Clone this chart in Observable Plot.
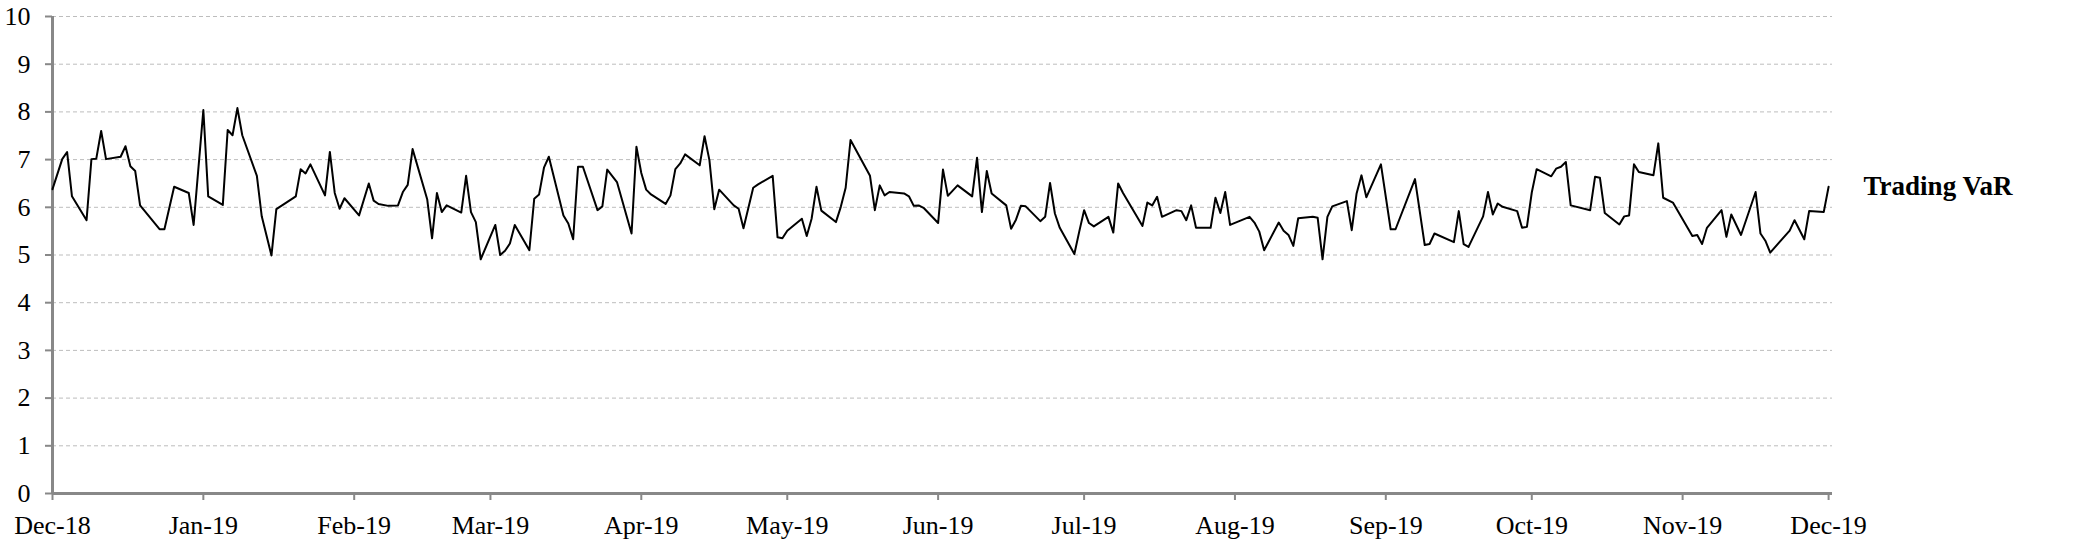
<!DOCTYPE html>
<html><head><meta charset="utf-8">
<script src="https://cdn.jsdelivr.net/npm/d3@7"></script>
<script src="https://cdn.jsdelivr.net/npm/@observablehq/plot@0.6"></script>
<style>html,body{margin:0;padding:0;background:#fff;} #chart{width:2100px;height:539px;}</style>
</head><body><div id="chart"></div>
<script>
// Data
const startDate = "2018-12-03";
const dayOffsets = [0,2,3,4,7,8,9,10,11,14,15,16,17,18,22,23,25,28,29,31,32,35,36,37,38,39,42,43,45,46,
50,51,52,53,56,57,58,59,60,63,65,66,67,69,71,72,73,74,77,78,79,80,81,84,85,86,87,88,91,
92,93,94,95,98,99,100,101,102,105,106,107,108,109,112,113,114,116,119,120,121,122,123,126,127,128,129,130,133,134,135,136,
137,140,141,142,144,145,148,149,150,151,154,155,156,157,158,161,162,163,164,168,169,170,171,172,175,176,177,178,179,182,
183,184,186,189,190,191,192,193,196,197,198,199,200,203,204,205,206,207,210,211,212,213,214,217,218,219,220,224,225,226,227,
228,231,232,233,234,235,238,239,240,241,242,246,247,248,249,252,253,254,255,256,259,260,261,262,263,266,267,268,269,270,
273,275,276,280,282,283,284,288,289,290,291,294,295,296,297,298,301,302,303,304,305,308,309,310,311,312,316,317,318,
319,322,323,324,325,326,329,330,331,333,337,338,339,340,343,344,345,347,350,351,352,353,357,358,360,361,364,365];
const varValues = [6.38,7.01,7.16,6.23,5.73,7.01,7.02,7.60,7.01,7.06,7.28,6.86,6.76,6.04,5.54,5.54,6.43,6.30,5.63,8.04,6.23,6.05,7.62,7.51,8.08,7.51,6.66,5.81,4.99,5.96,
6.23,6.80,6.71,6.90,6.25,7.16,6.30,5.97,6.19,5.83,6.50,6.14,6.07,6.03,6.04,6.32,6.47,7.22,6.17,5.35,6.30,5.90,6.04,5.89,6.66,5.90,5.69,4.91,5.63,
5.00,5.09,5.24,5.63,5.10,6.18,6.27,6.83,7.06,5.83,5.66,5.33,6.85,6.85,5.94,6.02,6.79,6.53,5.45,7.27,6.72,6.37,6.27,6.07,6.25,6.80,6.92,7.11,6.88,7.49,6.99,5.96,
6.37,6.04,5.97,5.56,6.41,6.48,6.66,5.37,5.35,5.51,5.76,5.40,5.76,6.43,5.93,5.69,6.01,6.41,7.41,6.66,5.94,6.46,6.25,6.32,6.29,6.23,6.03,6.04,5.99,5.67,
6.79,6.24,6.46,6.23,7.04,5.90,6.76,6.29,6.04,5.55,5.74,6.03,6.02,5.71,5.80,6.51,5.87,5.57,5.02,5.49,5.94,5.67,5.60,5.80,5.47,6.50,6.30,5.61,6.10,6.04,6.22,
5.80,5.94,5.92,5.73,6.04,5.57,5.57,6.20,5.88,6.32,5.63,5.80,5.68,5.49,5.10,5.68,5.51,5.42,5.19,5.77,5.80,5.78,4.91,5.80,6.02,6.13,5.52,6.29,6.67,6.21,
6.90,5.54,5.54,6.59,5.21,5.23,5.45,5.27,5.92,5.23,5.17,5.81,6.32,5.85,6.08,6.01,5.92,5.57,5.59,6.31,6.80,6.65,6.81,6.85,6.95,6.04,5.94,6.64,6.62,
5.88,5.64,5.81,5.83,6.90,6.74,6.67,7.34,6.20,6.10,5.40,5.42,5.23,5.57,5.94,5.38,5.85,5.42,6.32,5.45,5.30,5.05,5.51,5.73,5.33,5.92,5.90,6.43];
const tickLabels = ["Dec-18","Jan-19","Feb-19","Mar-19","Apr-19","May-19","Jun-19","Jul-19","Aug-19","Sep-19","Oct-19","Nov-19","Dec-19"];
const yTicks = [0,1,2,3,4,5,6,7,8,9,10];
const seriesLabel = "Trading VaR";

const t0 = new Date(startDate + "T00:00:00Z");
const t1 = new Date(+t0 + 365.8 * 864e5);
const data = dayOffsets.map((d, i) => ({date: d3.utcDay.offset(t0, d), value: varValues[i]}));
const monthTicks = tickLabels.map((_, i) => d3.utcMonth.offset(t0, i));
const lastPoint = [data[data.length - 1]];
const font = "'Liberation Serif', 'Times New Roman', serif";

const chart = Plot.plot({
  width: 2100,
  height: 539,
  marginLeft: 52,
  marginRight: 268,
  marginTop: 16,
  marginBottom: 46,
  style: {fontFamily: font, fontSize: "26px", color: "black", background: "white"},
  x: {type: "utc", domain: [t0, t1]},
  y: {domain: [0, 10]},
  marks: [
    Plot.gridY(yTicks.filter(v => v > 0), {stroke: "#bdbdbd", strokeOpacity: 1, strokeWidth: 1, strokeDasharray: "4,3"}),
    Plot.axisY({ticks: yTicks, tickSize: 7, tickPadding: 15, stroke: "#888", strokeWidth: 2, fill: "black", fontSize: 26, fontFamily: font, label: null}),
    Plot.axisX({ticks: monthTicks, tickFormat: (d, i) => tickLabels[i], tickSize: 7, tickPadding: 15, stroke: "#888", strokeWidth: 2, fill: "black", fontSize: 26, fontFamily: font, label: null}),
    Plot.ruleX([t0], {stroke: "#888", strokeWidth: 3}),
    Plot.ruleY([0], {stroke: "#888", strokeWidth: 3}),
    Plot.line(data, {x: "date", y: "value", stroke: "black", strokeWidth: 2}),
    Plot.text(lastPoint, {x: "date", y: "value", text: () => seriesLabel, dx: 35, textAnchor: "start", fontWeight: "bold", fontSize: 27, fontFamily: font, fill: "black"})
  ]
});
document.getElementById("chart").appendChild(chart);
</script>
</body></html>
